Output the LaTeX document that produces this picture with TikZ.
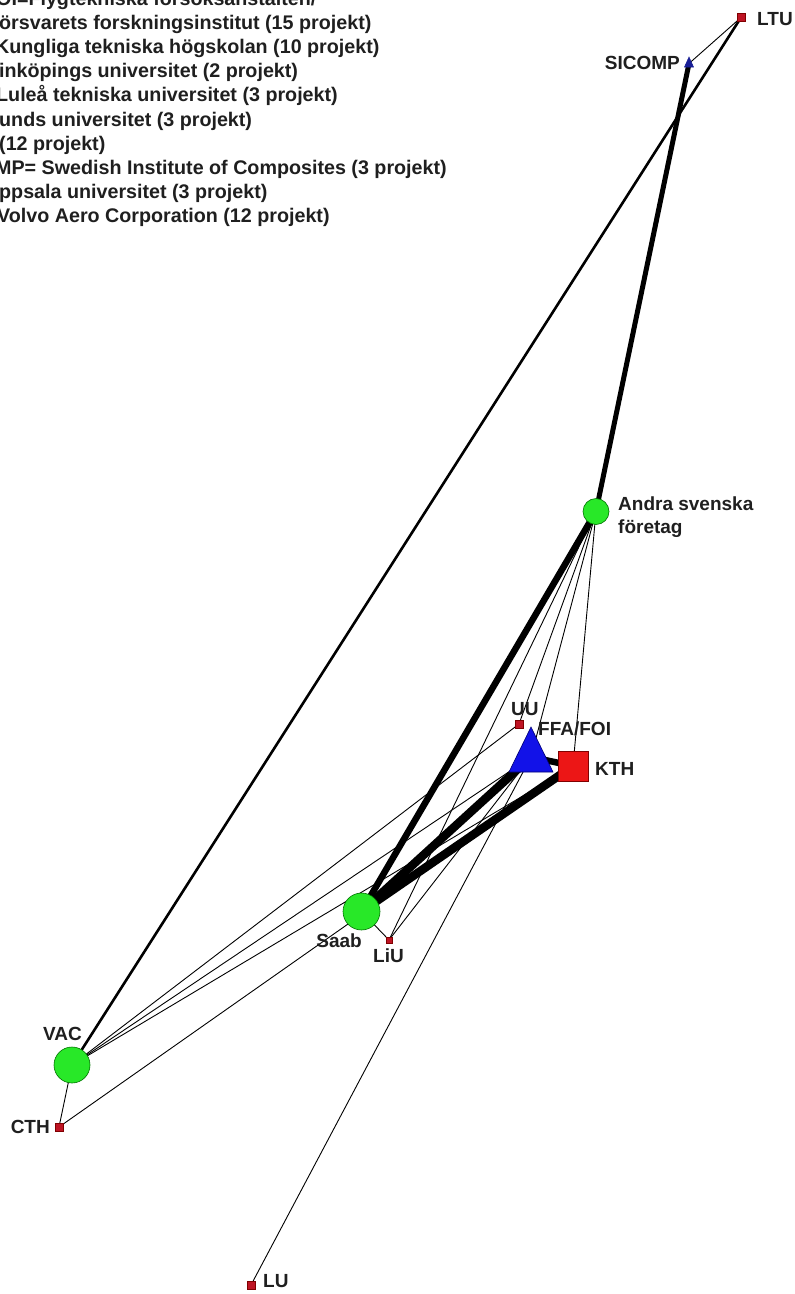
\documentclass[tikz,border=0pt]{standalone}
\usepackage{fontspec}
\setmainfont{Liberation Sans}
\usetikzlibrary{backgrounds}
\definecolor{nodegreen}{RGB}{40,232,40}
\definecolor{nodered}{RGB}{236,22,22}
\definecolor{nodeblue}{RGB}{18,18,232}
\definecolor{smallred}{RGB}{190,20,36}
\definecolor{navyblue}{RGB}{24,30,150}
\begin{document}
\begin{tikzpicture}[x=1pt,y=-1pt,
  lbl/.style={font=\fontsize{19}{23}\selectfont\bfseries, inner sep=0pt, text=black!88},
  legend/.style={lbl, font=\fontsize{19.7}{24}\selectfont\bfseries, anchor=base west},
  bigdot/.style={circle, fill=nodegreen, draw=black!55!green, line width=0.6pt, inner sep=0pt},
  smallsq/.style={rectangle, fill=smallred, draw=black!50!red, line width=0.5pt, inner sep=0pt, minimum size=8pt},
  bigsq/.style={rectangle, fill=nodered, draw=black!50!red, line width=0.6pt, inner sep=0pt, minimum size=30pt},
  tie/.style={line width=0.9pt, line cap=round},
  tie2/.style={line width=2.6pt, line cap=round},
  tie5/.style={line width=5pt, line cap=round},
  tie6/.style={line width=6.5pt, line cap=round},
  tie8/.style={line width=8.5pt, line cap=round},
]
\useasboundingbox (0,0) rectangle (795,1294);

% legend
\node[legend] (leg1) at (-4,5.5) {OI=Flygtekniska försöksanstalten/};
\node[legend] (leg2) at (-1,29.6) {örsvarets forskningsinstitut (15 projekt)};
\node[legend] (leg3) at (-5,53.7) {Kungliga tekniska högskolan (10 projekt)};
\node[legend] (leg4) at (-1,77.8) {inköpings universitet (2 projekt)};
\node[legend] (leg5) at (-4,101.9) {Luleå tekniska universitet (3 projekt)};
\node[legend] (leg6) at (-1,126) {unds universitet (3 projekt)};
\node[legend] (leg7) at (-1,150.1) {(12 projekt)};
\node[legend] (leg8) at (-5,174.2) {MP= Swedish Institute of Composites (3 projekt)};
\node[legend] (leg9) at (-1,198.3) {ppsala universitet (3 projekt)};
\node[legend] (leg10) at (-3,222.4) {Volvo Aero Corporation (12 projekt)};

% actors
\node[smallsq] (ltu) at (741,17.5) {};
\node[lbl, anchor=base west] (ltul) at (757,25) {LTU};

\coordinate (sicomp) at (689,63.5);
\filldraw[fill=navyblue, draw=navyblue, line width=0.5pt] (689,57) -- (693.5,67) -- (684.5,67) -- cycle;
\node[lbl, anchor=base east] (sicompl) at (680,69) {SICOMP};

\node[bigdot, minimum size=26pt] (andra) at (596,511.5) {};
\node[lbl, anchor=base west] (andral1) at (618,510) {Andra svenska};
\node[lbl, anchor=base west] (andral2) at (618,533) {företag};

\node[smallsq] (uu) at (519,724) {};
\node[lbl, anchor=base west] (uul) at (511,715) {UU};

\coordinate (ffa) at (531,757);
\filldraw[fill=nodeblue, draw=black!55!blue, line width=0.6pt] (531,727) -- (553,772) -- (509,772) -- cycle;
\node[lbl, anchor=base west] (ffal) at (538,735) {FFA/FOI};

\node[bigsq] (kth) at (573,766) {};
\node[lbl, anchor=base west] (kthl) at (595,775) {KTH};

\node[bigdot, minimum size=37pt] (saab) at (361.5,911.5) {};
\node[lbl, anchor=base east] (saabl) at (362,947) {Saab};

\node[smallsq, minimum size=6pt] (liu) at (389,940) {};
\node[lbl, anchor=base west] (liul) at (373,962) {LiU};

\node[bigdot, minimum size=36pt] (vac) at (72,1065) {};
\node[lbl, anchor=base west] (vacl) at (43,1040) {VAC};

\node[smallsq] (cth) at (59,1127) {};
\node[lbl, anchor=base east] (cthl) at (50,1133) {CTH};

\node[smallsq] (lu) at (251,1285) {};
\node[lbl, anchor=base west] (lul) at (263,1287) {LU};

% ties between actors, under the actor symbols
\begin{pgfonlayer}{background}
  \fill[white] (0,0) rectangle (795,1294);
  \draw[tie5] (sicomp) -- (andra.center);
  \draw[tie6] (andra.center) -- (saab.center);
  \draw[tie8] (saab.center) -- (ffa);
  \draw[tie8] (saab.center) -- (kth.center);
  \draw[tie6] (ffa) -- (kth.center);
  \draw[tie2] (ltu.center) -- (vac.center);
  \draw[tie] (ltu.center) -- (sicomp);
  \draw[tie] (andra.center) -- (kth.center);
  \draw[tie] (andra.center) -- (liu.center);
  \draw[tie] (andra.center) -- (uu.center);
  \draw[tie] (andra.center) -- (ffa);
  \draw[tie] (saab.center) -- (liu.center);
  \draw[tie] (liu.center) -- (ffa);
  \draw[tie] (lu.center) -- (ffa);
  \draw[tie] (vac.center) -- (uu.center);
  \draw[tie] (vac.center) -- (ffa);
  \draw[tie] (vac.center) -- (kth.center);
  \draw[tie] (vac.center) -- (cth.center);
  \draw[tie] (cth.center) -- (kth.center);
\end{pgfonlayer}
\end{tikzpicture}
\end{document}
